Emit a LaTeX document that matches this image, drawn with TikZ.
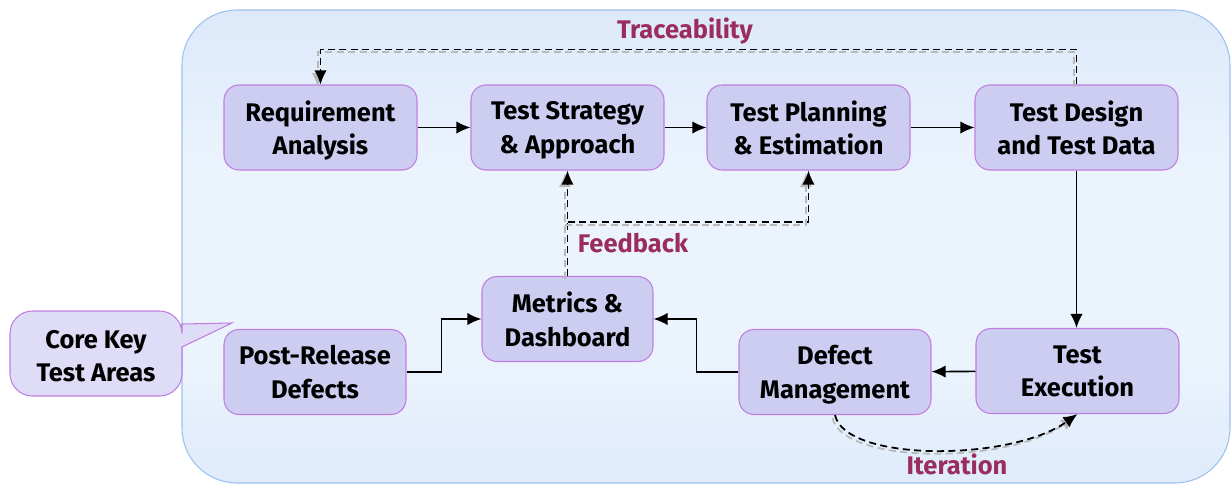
\documentclass[tikz,border=0pt]{standalone}
\usepackage{fontspec}
\setmainfont{Fira Sans}
\usetikzlibrary{arrows.meta}

\definecolor{boxfill}{HTML}{CDCDF2}
\definecolor{boxline}{HTML}{C07EE0}
\definecolor{calloutfill}{HTML}{DEDCF6}
\definecolor{labelred}{HTML}{9A2D5E}
\definecolor{bgtop}{HTML}{C8DBF6}
\definecolor{bgmid}{HTML}{EBF3FD}
\definecolor{bgline}{HTML}{9FC0EE}
\pgfdeclareverticalshading{bgshade}{100bp}{color(0bp)=(bgtop); color(38bp)=(bgmid); color(58bp)=(bgmid); color(100bp)=(bgtop)}

\begin{document}
\begin{tikzpicture}[x=0.02cm, y=-0.02cm, >={Latex[length=8pt,width=7pt]},
    area/.style={draw=boxline, fill=boxfill, line width=0.6pt, rounded corners=0.3cm,
        align=center, font=\fontsize{14.5}{19}\selectfont\bfseries,
        text depth=0pt, minimum height=1.7cm, inner sep=2pt},
    flow/.style={->, line width=0.9pt},
    loopback/.style={->, dash pattern=on 4pt off 2.5pt, line width=1pt,
        preaction={draw=gray!55, dash pattern=on 4pt off 2.5pt, line width=1pt,
            transform canvas={shift={(-1.5pt,-1.5pt)}}}},
    tag/.style={text=labelred, font=\fontsize{14.5}{17}\selectfont\bfseries}]
        \useasboundingbox (0,0) rectangle (1232,485);
        \path[shading=bgshade, draw=bgline, line width=0.6pt, rounded corners=1.1cm]
            (182,10) rectangle (1230,483);

        % callout
        \draw[draw=boxline, fill=calloutfill, line width=0.6pt]
            (182,324) -- (232,323) -- (182,347)
            [rounded corners=0.45cm] -- (182,396) -- (10,396) -- (10,311) -- (182,311)
            [sharp corners] -- cycle;
        \node[align=center, font=\fontsize{14.5}{19}\selectfont\bfseries, text depth=0pt] (K) at (96,356) {Core Key\\Test Areas};

        \node[area, minimum width=3.86cm] (A) at (320.5,127.5) {Requirement\\Analysis};
        \node[area, minimum width=3.86cm] (B) at (567.5,127.5) {Test Strategy\\\& Approach};
        \node[area, minimum width=4.06cm] (C) at (808.5,127.5) {Test Planning\\\& Estimation};
        \node[area, minimum width=4.06cm] (D) at (1076.5,127.5) {Test Design\\and Test Data};
        \node[area, minimum width=4.06cm] (E) at (1077.5,371) {Test\\Execution};
        \node[area, minimum width=3.84cm] (F) at (835,372) {Defect\\Management};
        \node[area, minimum width=3.42cm] (G) at (567.5,319) {Metrics \&\\Dashboard};
        \node[area, minimum width=3.64cm] (H) at (315,372) {Post-Release\\Defects};

        \path[flow] (A) edge (B);
        \path[flow] (B) edge (C);
        \path[flow] (C) edge (D);
        \path[flow] (D.south) edge (D.south |- E.north);
        \path[flow] (E) edge (F);
        \draw[flow] (F.west) -- ++(-42,0) |- (G.east);
        \draw[flow] (H.east) -- ++(35,0) |- (G.west);

        % dashed loops
        \coordinate (fb) at (567.5,222);
        \draw[loopback] (D.north) -- ++(0,-35) -| (A.north);
        \draw[loopback] (G.north) -- (B.south);
        \draw[loopback] (fb) -| (C.south);
        \draw[loopback] (F.south) .. controls (845,462) and (1010,462) .. (E.south);

        \node[tag] (T1) at (685,31) {Traceability};
        \node[tag] (T2) at (633,243) {Feedback};
        \node[tag] (T3) at (957,464) {Iteration};
\end{tikzpicture}
\end{document}
